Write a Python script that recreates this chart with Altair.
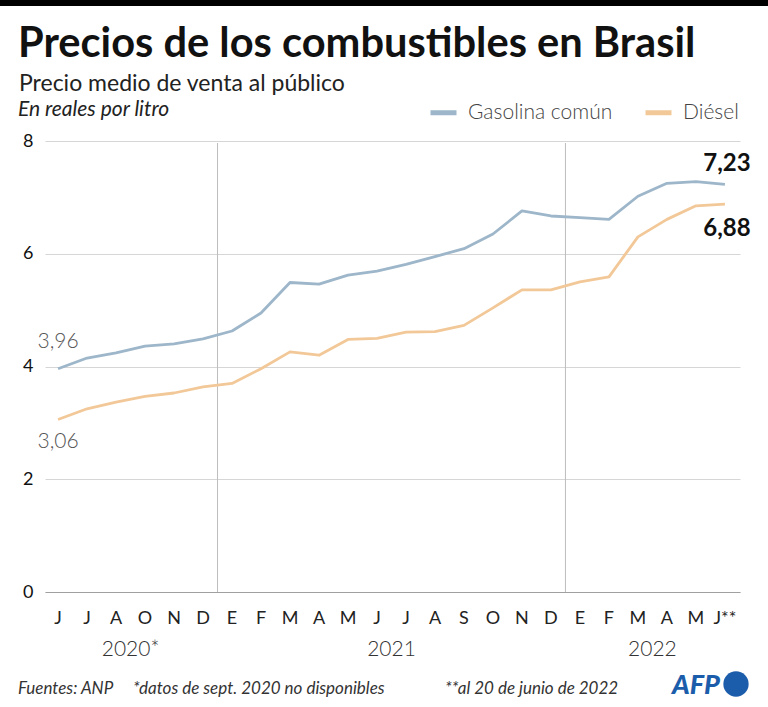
import altair as alt
import pandas as pd

months = ["J", "J", "A", "O", "N", "D",
          "E", "F", "M", "A", "M", "J", "J", "A", "S", "O", "N", "D",
          "E", "F", "M", "A", "M", "J**"]
years = ["2020*"] * 6 + ["2021"] * 12 + ["2022"] * 6
gasolina = [3.96, 4.15, 4.24, 4.36, 4.40, 4.49,
            4.63, 4.95, 5.49, 5.46, 5.62, 5.69, 5.81, 5.95, 6.09, 6.35, 6.76, 6.67,
            6.64, 6.61, 7.02, 7.25, 7.28, 7.23]
diesel = [3.06, 3.25, 3.37, 3.47, 3.53, 3.64,
          3.70, 3.96, 4.26, 4.20, 4.48, 4.50, 4.61, 4.62, 4.73, 5.04, 5.36, 5.36,
          5.50, 5.59, 6.30, 6.61, 6.85, 6.88]
series_names = ["Gasolina común", "Diésel"]
series_colors = ["#9db6c9", "#f2c898"]

FONT = "Lato"
W, H = 695, 451
PAD_L, PAD_T = 45, 141

rows = []
for name, vals in zip(series_names, [gasolina, diesel]):
    for i, v in enumerate(vals):
        rows.append({"idx": i, "month": months[i], "year": years[i],
                     "series": name, "value": v,
                     "label": f"{v:.2f}".replace(".", ",")})
df = pd.DataFrame(rows)

xscale = alt.Scale(domain=[-0.45, 23.52], nice=False, zero=False)
yscale = alt.Scale(domain=[0, 8], nice=False)

base = alt.Chart(df)

lines = base.mark_line(strokeWidth=2.8, strokeJoin="round").encode(
    x=alt.X("idx:Q", scale=xscale,
            axis=alt.Axis(values=list(range(len(months))), labels=False,
                          ticks=False, grid=False, domain=True, domainColor="#a0a0a0",
                          domainWidth=1, title=None)),
    y=alt.Y("value:Q", scale=yscale,
            axis=alt.Axis(values=[0, 2, 4, 6, 8], format="d", ticks=False, domain=False,
                          grid=True, gridColor="#d6d6d6", gridWidth=1,
                          labelFontSize=18, labelFont=FONT, labelColor="#111",
                          labelPadding=12, labelOverlap=False, title=None)),
    color=alt.Color("series:N",
                    scale=alt.Scale(domain=series_names, range=series_colors),
                    legend=alt.Legend(orient="none", legendX=383, legendY=-44,
                                      direction="horizontal", title=None,
                                      symbolType="stroke", symbolSize=676,
                                      symbolStrokeWidth=5,
                                      labelFontSize=21, labelFont=FONT,
                                      labelFontWeight=300,
                                      labelColor="#444", labelOffset=9,
                                      columnPadding=22, padding=0)),
)

# month labels under the axis
mdf = pd.DataFrame({"idx": list(range(len(months))), "month": months})
month_text = alt.Chart(mdf).mark_text(
    fontSize=18, font=FONT, color="#222", baseline="top"
).encode(x=alt.X("idx:Q", scale=xscale), y=alt.value(H + 18), text="month:N")

# year separators derived from the year list
sep_pos = [i - 0.5 for i in range(1, len(years)) if years[i] != years[i - 1]]
sep = alt.Chart(pd.DataFrame({"pos": sep_pos})).mark_rule(
    color="#bdbdbd", strokeWidth=1
).encode(x=alt.X("pos:Q", scale=xscale), y=alt.value(2), y2=alt.value(H))

# year labels centred on their months
ydf = pd.DataFrame({"idx": list(range(len(years))), "year": years})
ycent = ydf.groupby("year", sort=False)["idx"].mean().reset_index()
year_text = alt.Chart(ycent).mark_text(
    fontSize=21, font=FONT, color="#333", fontWeight=300, baseline="alphabetic"
).encode(x=alt.X("idx:Q", scale=xscale), y=alt.value(H + 64), text="year:N")

first = df[df.idx == 0]
last = df[df.idx == len(months) - 1]
start_g = alt.Chart(first[first.series == series_names[0]]).mark_text(
    fontSize=21, font=FONT, fontWeight=300, color="#555", dy=-21, baseline="alphabetic"
).encode(x=alt.X("idx:Q", scale=xscale), y=alt.Y("value:Q", scale=yscale), text="label:N")
start_d = alt.Chart(first[first.series == series_names[1]]).mark_text(
    fontSize=21, font=FONT, fontWeight=300, color="#555", dy=12, baseline="top"
).encode(x=alt.X("idx:Q", scale=xscale), y=alt.Y("value:Q", scale=yscale), text="label:N")
end_g = alt.Chart(last[last.series == series_names[0]]).mark_text(
    fontSize=24, font=FONT, fontWeight="bold", color="#111", dy=-13, dx=2,
    baseline="alphabetic"
).encode(x=alt.X("idx:Q", scale=xscale), y=alt.Y("value:Q", scale=yscale), text="label:N")
end_d = alt.Chart(last[last.series == series_names[1]]).mark_text(
    fontSize=24, font=FONT, fontWeight="bold", color="#111", dy=13, dx=2,
    baseline="top"
).encode(x=alt.X("idx:Q", scale=xscale), y=alt.Y("value:Q", scale=yscale), text="label:N")

one = pd.DataFrame({"k": [0]})


def label(txt, x, y, size, weight="normal", style="normal", color="#111",
          align="left", font=FONT):
    return alt.Chart(one).mark_text(
        text=txt, fontSize=size, fontWeight=weight, fontStyle=style, color=color,
        align=align, baseline="alphabetic", font=font
    ).encode(x=alt.value(x - PAD_L), y=alt.value(y - PAD_T))


topbar = alt.Chart(one).mark_rect(color="#000").encode(
    x=alt.value(-PAD_L), x2=alt.value(768 - PAD_L),
    y=alt.value(-PAD_T), y2=alt.value(6 - PAD_T))

title = label("Precios de los combustibles en Brasil", 18, 57, 41.6, weight="bold")
subtitle = label("Precio medio de venta al público", 19, 91, 23, color="#222")
unit = label("En reales por litro", 18, 116, 21, style="italic", color="#222")
src = label("Fuentes: ANP", 18, 694, 17, style="italic", color="#333")
note1 = label("*datos de sept. 2020 no disponibles", 133, 694, 17, style="italic", color="#333")
note2 = label("**al 20 de junio de 2022", 445, 694, 17, style="italic", color="#333")
afp = label("AFP", 720, 694, 27, weight=900, style="italic", color="#1b5dab", align="right")
afp_dot = alt.Chart(one).mark_point(filled=True, color="#1b5dab", opacity=1,
                                    size=640, shape="circle").encode(
    x=alt.value(736 - PAD_L), y=alt.value(684 - PAD_T))

chart = alt.layer(
    sep, lines, month_text, start_g, start_d, end_g, end_d, year_text,
    topbar, title, subtitle, unit, src, note1, note2, afp, afp_dot
).properties(
    width=W, height=H,
    autosize=alt.AutoSizeParams(type="none"),
    padding={"left": PAD_L, "top": PAD_T, "right": 768 - PAD_L - W, "bottom": 707 - PAD_T - H},
    background="white",
).configure_view(stroke=None)

chart.save("out.html", embed_options={"renderer": "svg", "actions": False})
